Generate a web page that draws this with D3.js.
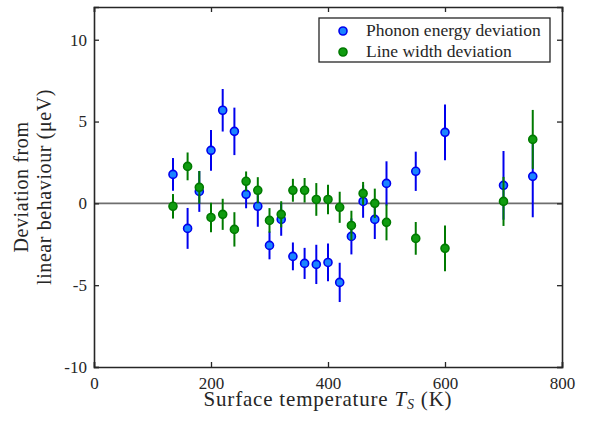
<!DOCTYPE html>
<html>
<head>
<meta charset="utf-8">
<script src="https://cdn.jsdelivr.net/npm/d3@7"></script>
<style>
  body { margin: 0; background: #fff; }
  svg { display: block; }
  svg text { font-family: "Liberation Serif", serif; fill: #262626; }
</style>
</head>
<body>
<div id="chart"></div>
<script>
const width = 592, height = 424;
const margin = { top: 7, right: 30, bottom: 57, left: 94 };
const innerWidth = width - margin.left - margin.right;
const innerHeight = height - margin.top - margin.bottom;

const temps = [135, 160, 180, 200, 220, 240, 260, 280, 300, 320, 340, 360, 380, 400, 420, 440, 460, 480, 500, 550, 600, 700, 750];
const phononDev = [1.77, -1.53, 0.73, 3.24, 5.69, 4.40, 0.55, -0.18, -2.57, -0.98, -3.24, -3.67, -3.73, -3.61, -4.83, -2.02, 0.12, -0.98, 1.22, 1.96, 4.34, 1.10, 1.65];
const phononErr = [1.0, 1.25, 1.25, 1.25, 1.3, 1.45, 0.85, 1.25, 0.85, 1.0, 0.85, 0.95, 1.2, 1.15, 1.2, 1.1, 1.0, 1.2, 1.35, 1.2, 1.7, 2.1, 2.5];
const widthDev = [-0.18, 2.26, 0.98, -0.86, -0.67, -1.59, 1.35, 0.80, -1.04, -0.67, 0.80, 0.80, 0.24, 0.24, -0.24, -1.35, 0.61, 0.0, -1.16, -2.14, -2.75, 0.12, 3.91];
const widthErr = [0.75, 0.85, 1.0, 0.9, 0.95, 1.05, 0.6, 0.8, 0.75, 0.8, 0.7, 0.75, 1.0, 0.9, 0.95, 0.9, 0.7, 0.9, 1.1, 1.0, 1.4, 1.5, 1.8];

const xTicks = [0, 200, 400, 600, 800];
const yTicks = [-10, -5, 0, 5, 10];

const seriesList = [
  { name: "Phonon energy deviation", values: phononDev, errors: phononErr, fill: "#1a84ff", stroke: "#0000ee" },
  { name: "Line width deviation", values: widthDev, errors: widthErr, fill: "#109c10", stroke: "#007a00" }
];

const svg = d3.select("#chart").append("svg")
  .attr("width", width).attr("height", height);

const innerChart = svg.append("g")
  .attr("transform", `translate(${margin.left}, ${margin.top})`);

const xScale = d3.scaleLinear().domain([0, 800]).range([0, innerWidth]);
const yScale = d3.scaleLinear().domain([-10, 12]).range([innerHeight, 0]);

// zero line
innerChart.append("line")
  .attr("x1", 0).attr("x2", innerWidth)
  .attr("y1", yScale(0)).attr("y2", yScale(0))
  .attr("stroke", "#6e6e6e").attr("stroke-width", 1.6);

seriesList.forEach(s => {
  const pts = temps.map((t, i) => ({ t: t, v: s.values[i], e: s.errors[i] }));
  const g = innerChart.append("g");
  g.selectAll("line")
    .data(pts)
    .join("line")
      .attr("x1", d => xScale(d.t)).attr("x2", d => xScale(d.t))
      .attr("y1", d => yScale(d.v - d.e)).attr("y2", d => yScale(d.v + d.e))
      .attr("stroke", s.stroke).attr("stroke-width", 2);
  g.selectAll("circle")
    .data(pts)
    .join("circle")
      .attr("cx", d => xScale(d.t)).attr("cy", d => yScale(d.v))
      .attr("r", 4)
      .attr("fill", s.fill).attr("stroke", s.stroke).attr("stroke-width", 1.6);
});

// axes with inward ticks on all sides
const axisColor = "#262626";
const fmt = d => String(d); // plain hyphen minus like the original
const bottomAxis = innerChart.append("g").attr("transform", `translate(0, ${innerHeight})`)
  .call(d3.axisBottom(xScale).tickValues(xTicks).tickSize(-5).tickPadding(10).tickFormat(fmt));
const topAxis = innerChart.append("g")
  .call(d3.axisTop(xScale).tickValues(xTicks).tickSize(-5).tickFormat(""));
const leftAxis = innerChart.append("g")
  .call(d3.axisLeft(yScale).tickValues(yTicks).tickSize(-5).tickPadding(7).tickFormat(fmt));
const rightAxis = innerChart.append("g").attr("transform", `translate(${innerWidth}, 0)`)
  .call(d3.axisRight(yScale).tickValues(yTicks).tickSize(-5).tickFormat(""));

[bottomAxis, topAxis, leftAxis, rightAxis].forEach(a => {
  a.attr("font-family", null);
  a.select(".domain").attr("stroke", axisColor).attr("stroke-width", 1.6);
  a.selectAll(".tick line").attr("stroke", axisColor).attr("stroke-width", 1.3);
  a.selectAll(".tick text").attr("font-size", 17).attr("fill", axisColor);
});

// axis labels
svg.append("text")
  .attr("x", margin.left + innerWidth / 2).attr("y", 406)
  .attr("text-anchor", "middle").attr("font-size", 21).attr("letter-spacing", 0.8)
  .html('Surface temperature <tspan font-style="italic">T</tspan><tspan font-style="italic" font-size="14" dy="3">S</tspan><tspan dy="-3"> (K)</tspan>');

const yLabel = svg.append("text")
  .attr("transform", `translate(0, ${margin.top + innerHeight / 2}) rotate(-90)`)
  .attr("text-anchor", "middle").attr("font-size", 20).attr("letter-spacing", 0.6);
yLabel.append("tspan").attr("x", 0).attr("y", 28).text("Deviation from");
yLabel.append("tspan").attr("x", 0).attr("y", 51).text("linear behaviour (μeV)");

// legend
const legend = svg.append("g").attr("transform", "translate(319, 18)");
legend.append("rect")
  .attr("width", 231).attr("height", 44)
  .attr("fill", "#fff").attr("stroke", axisColor).attr("stroke-width", 1.3);
seriesList.forEach((s, i) => {
  const row = legend.append("g").attr("transform", `translate(0, ${13 + i * 21})`);
  row.append("circle").attr("cx", 24).attr("cy", 0).attr("r", 4)
    .attr("fill", s.fill).attr("stroke", s.stroke).attr("stroke-width", 1.6);
  row.append("text").attr("x", 47).attr("y", 5).attr("font-size", 17.5).text(s.name);
});
</script>
</body>
</html>
